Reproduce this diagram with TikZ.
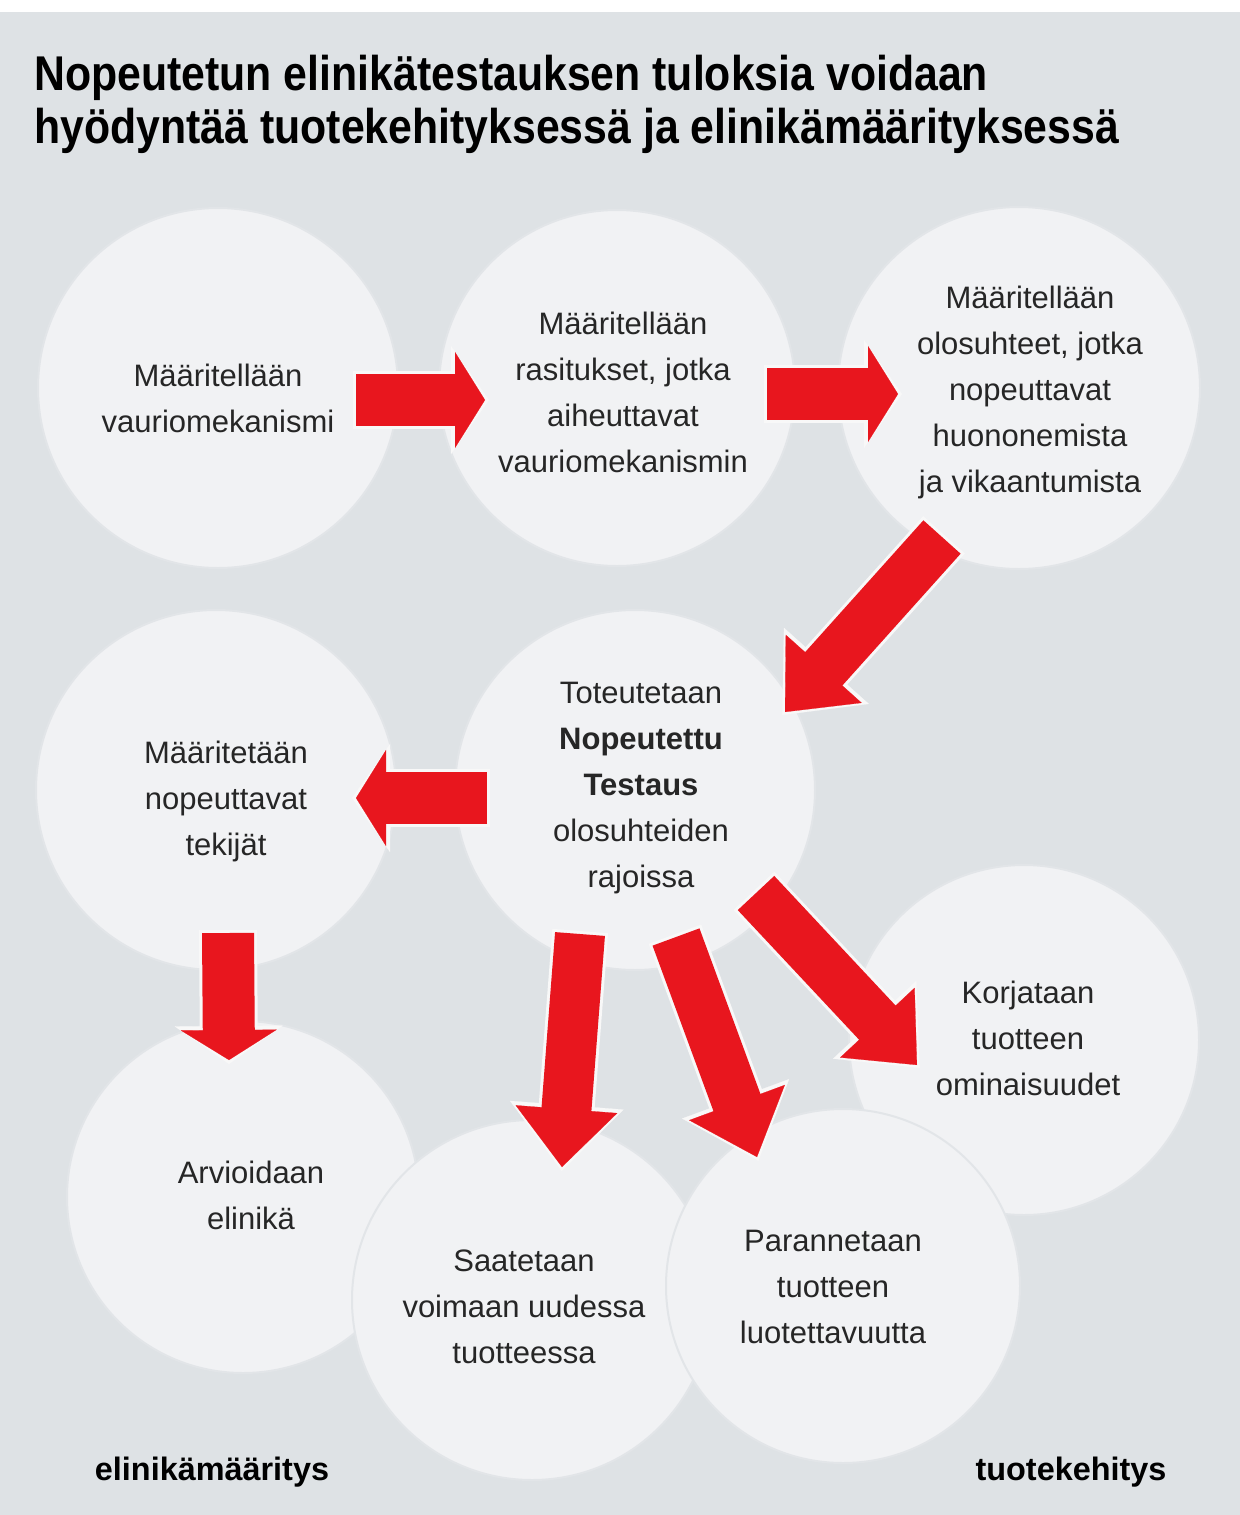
\documentclass[tikz,border=0pt]{standalone}
\usepackage{fontspec}
\setmainfont{Liberation Sans}
\newfontfamily\titlefont{Liberation Sans}[FakeStretch=0.877]
\usetikzlibrary{arrows.meta,calc}
\definecolor{bgcol}{HTML}{DEE2E5}
\definecolor{bubblefill}{HTML}{F1F2F4}
\definecolor{bubbleedge}{HTML}{E2E5E8}
\definecolor{arrowred}{HTML}{E8161E}
\definecolor{glowcol}{HTML}{F8F8F8}
\definecolor{txtcol}{HTML}{262626}
% short-headed block arrow (horizontal / vertical ones)
\newcommand{\shortblock}[2]{%
  \draw[glowcol, line width=29pt, shorten <=-1.5pt, shorten >=14pt] (#1) -- (#2);
  \draw[glowcol, line width=0.1pt, -{Triangle[width=54pt,length=19pt]}] ($(#2)!17pt!(#1)$) -- ($(#2)!-2pt!(#1)$);
  \draw[arrowred, line width=26pt, shorten >=14pt] (#1) -- (#2);
  \draw[arrowred, line width=0.1pt, -{Triangle[width=48pt,length=15pt]}] ($(#2)!15pt!(#1)$) -- (#2);}
% long-headed block arrow (diagonal ones)
\newcommand{\longblock}[2]{%
  \draw[glowcol, line width=28pt, shorten <=-1.5pt, shorten >=28pt] (#1) -- (#2);
  \draw[glowcol, line width=0.1pt, -{Triangle[width=57pt,length=33pt]}] ($(#2)!31pt!(#1)$) -- ($(#2)!-2pt!(#1)$);
  \draw[arrowred, line width=25pt, shorten >=28pt] (#1) -- (#2);
  \draw[arrowred, line width=0.1pt, -{Triangle[width=51pt,length=29pt]}] ($(#2)!29pt!(#1)$) -- (#2);}
\begin{document}
\begin{tikzpicture}[x=0.5pt,y=-0.5pt,
  bubble/.style={circle, fill=bubblefill, draw=bubbleedge, line width=1pt, inner sep=0pt, minimum size={#1*1pt}},
  stepbody/.style={text=txtcol, align=center, inner sep=0pt, font=\fontsize{15.5}{23}\selectfont},
  sidelabel/.style={text=black, inner sep=0pt, anchor=base, font=\fontsize{16.2}{20}\selectfont\bfseries},
  titleline/.style={text=black, inner sep=0pt, anchor=base west, font=\titlefont\fontsize{24.4}{26.5}\selectfont\bfseries}
]
\useasboundingbox (0,0) rectangle (1240,1515);
\fill[bgcol] (0,0) rectangle (1240,1515);
\fill[white] (0,0) rectangle (1240,12);

% title
\node[titleline] (t1) at (34,90) {Nopeutetun elinikätestauksen tuloksia voidaan};
\node[titleline] (t2) at (34,143) {hyödyntää tuotekehityksessä ja elinikämäärityksessä};

% circles
\node[bubble=180] (c1) at (218,388) {};
\node[bubble=178] (c2) at (617,388) {};
\node[bubble=181] (c3) at (1019,388) {};
\node[bubble=180] (c5) at (216,790) {};
\node[bubble=180] (c4) at (635,790) {};
\node[bubble=176] (c6) at (243,1197) {};
\node[bubble=180] (c7) at (532,1300) {};
\node[bubble=175] (c9) at (1024,1040) {};
\node[bubble=177] (c8) at (843,1286) {};

% arrow end points
\coordinate (a1s) at (356,400); \coordinate (a1e) at (485,400);
\coordinate (a2s) at (767,394); \coordinate (a2e) at (898,394);
\coordinate (a3s) at (942,537); \coordinate (a3e) at (785,712);
\coordinate (a4s) at (487,798); \coordinate (a4e) at (356,798);
\coordinate (a5s) at (228,933); \coordinate (a5e) at (229,1060);
\coordinate (a6s) at (580,934); \coordinate (a6e) at (562,1167);
\coordinate (a7s) at (676,937); \coordinate (a7e) at (757,1157);
\coordinate (a8s) at (756,893); \coordinate (a8e) at (917,1065);

\shortblock{a1s}{a1e}
\shortblock{a2s}{a2e}
\longblock{a3s}{a3e}
\shortblock{a4s}{a4e}
\shortblock{a5s}{a5e}
\longblock{a6s}{a6e}
\longblock{a7s}{a7e}
\longblock{a8s}{a8e}

% texts
\node[stepbody] (x1) at (218,398) {Määritellään\\vauriomekanismi};
\node[stepbody] (x2) at (623,392) {Määritellään\\rasitukset, jotka\\aiheuttavat\\vauriomekanismin};
\node[stepbody] (x3) at (1030,392) {Määritellään\\olosuhteet, jotka\\nopeuttavat\\huononemista\\ja vikaantumista};
\node[stepbody] (x4) at (641,788) {Toteutetaan\\\textbf{Nopeutettu}\\\textbf{Testaus}\\olosuhteiden\\rajoissa};
\node[stepbody] (x5) at (226,801) {Määritetään\\nopeuttavat\\tekijät};
\node[stepbody] (x6) at (251,1195) {Arvioidaan\\elinikä};
\node[stepbody] (x7) at (524,1307) {Saatetaan\\voimaan uudessa\\tuotteessa};
\node[stepbody] (x8) at (833,1287) {Parannetaan\\tuotteen\\luotettavuutta};
\node[stepbody] (x9) at (1028,1038) {Korjataan\\tuotteen\\ominaisuudet};

\node[sidelabel] (l1) at (212,1480) {elinikämääritys};
\node[sidelabel] (l2) at (1071,1480) {tuotekehitys};
\end{tikzpicture}
\end{document}
